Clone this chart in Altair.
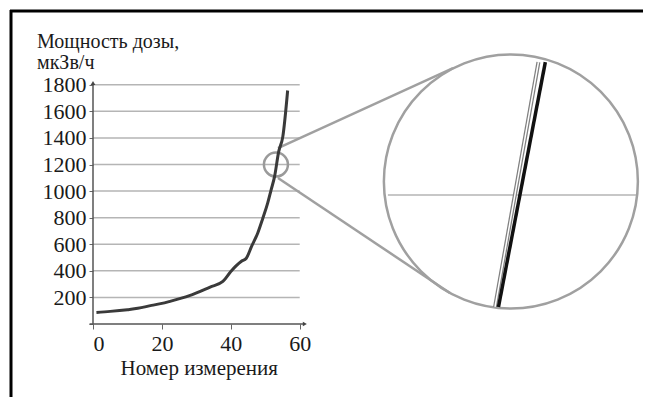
import altair as alt
import pandas as pd

# ---- data ----
meas_no = [1, 5, 10, 13, 17, 20, 22, 28, 34, 37.7, 40, 43, 44.5, 46, 47.8, 49.3, 50.7, 51.7, 52.7, 53.9, 55.1, 56.5]
dose = [87, 95, 108, 118, 140, 155, 168, 213, 278, 320, 395, 470, 495, 582, 683, 796, 909, 1009, 1109, 1297, 1410, 1757]
grid_levels = [200, 400, 600, 800, 1000, 1200, 1400, 1600, 1800]
x_ticks = [0, 20, 40, 60]
y_ticks = [0, 200, 400, 600, 800, 1000, 1200, 1400, 1600, 1800]
y_title = ["Мощность дозы,", "мкЗв/ч"]
x_title = "Номер измерения"

# magnifier geometry in data units
small_circle = {"x": 53.1, "y": 1200}
big_circle = {"x": 121.3, "y": 1072}
connectors = [{"x": 53.7, "y": 1324, "x2": 104.5, "y2": 1926},
              {"x": 53.7, "y": 1099, "x2": 103.6, "y2": 233}]
zoom_grid = [{"x": 85.6, "y": 971, "x2": 157.6, "y2": 971}]
zoom_thin = [{"x": 129.3, "y": 1971, "x2": 116.7, "y2": 128}]
zoom_thick = [{"x": 131.3, "y": 1971, "x2": 117.7, "y2": 128}]

W, H = 547, 279
XMAX = W / 3.445
YMAX = H / 0.1329
FONT = "Liberation Serif"

xs = alt.Scale(domain=[0, XMAX], nice=False, zero=False)
ys = alt.Scale(domain=[0, YMAX], nice=False, zero=False)

AX_X = alt.Axis(
    values=x_ticks, title=x_title, domain=False, grid=False, tickSize=5,
    tickColor="#666", labelFont=FONT, labelFontSize=22, labelColor="#1a1a1a",
    labelPadding=4, titleFont=FONT, titleFontSize=21, titleFontWeight="normal",
    titleColor="#1a1a1a", titlePadding=3, titleAnchor="start", titleX=27, format="d")
AX_Y = alt.Axis(
    values=y_ticks, title=None, domain=False, grid=False, tickSize=4,
    tickColor="#666", labelFont=FONT, labelFontSize=22, labelColor="#1a1a1a",
    labelPadding=3, format="d", labelExpr="datum.value == 0 ? '' : datum.label")


def X(f):
    return alt.X(f, scale=xs, axis=AX_X)


def Y(f):
    return alt.Y(f, scale=ys, axis=AX_Y)


curve_df = pd.DataFrame({"n": meas_no, "d": dose})
grid_df = pd.DataFrame({"y": grid_levels, "x": 0, "x2": 60})

grid = alt.Chart(grid_df).mark_rule(color="#b5b5b5", strokeWidth=1.5).encode(
    x=X("x:Q"), x2="x2:Q", y=Y("y:Q"))

curve = alt.Chart(curve_df).mark_line(color="#3a3a3a", strokeWidth=3, interpolate="monotone").encode(
    x=X("n:Q"), y=Y("d:Q"))

axis_df = pd.DataFrame([{"x": 0, "y": 0, "x2": 0, "y2": 1813},
                        {"x": -1, "y": 0, "x2": 61.5, "y2": 0}])
axes = alt.Chart(axis_df).mark_rule(color="#555", strokeWidth=1.5).encode(
    x=X("x:Q"), y=Y("y:Q"), x2="x2:Q", y2="y2:Q")
arrows_df = pd.DataFrame([{"x": 0, "y": 1813, "s": "triangle-up"},
                          {"x": 61.5, "y": 0, "s": "triangle-right"}])
arrows = alt.Chart(arrows_df).mark_point(filled=True, color="#444", size=22, opacity=1).encode(
    x=X("x:Q"), y=Y("y:Q"), shape=alt.Shape("s:N", scale=None, legend=None))

small = alt.Chart(pd.DataFrame([small_circle])).mark_point(
    shape="circle", filled=False, color="#9a9a9a", strokeWidth=2.5, size=24 * 24, opacity=1).encode(
    x=X("x:Q"), y=Y("y:Q"))
big = alt.Chart(pd.DataFrame([big_circle])).mark_point(
    shape="circle", filled=False, color="#a0a0a0", strokeWidth=2.5, size=254 * 254, opacity=1).encode(
    x=X("x:Q"), y=Y("y:Q"))


def seg(rows, color, width):
    return alt.Chart(pd.DataFrame(rows)).mark_rule(color=color, strokeWidth=width).encode(
        x=X("x:Q"), y=Y("y:Q"), x2="x2:Q", y2="y2:Q")


conn = seg(connectors, "#a0a0a0", 2.5)
zgrid = seg(zoom_grid, "#b5b5b5", 1.5)
zthin_outer = seg(zoom_thin, "#808080", 4)
zthin_inner = seg(zoom_thin, "#ffffff", 1.5)
zthick = seg(zoom_thick, "#111111", 3.5)

ytitle = alt.Chart(pd.DataFrame({"t": ["\n".join(y_title)]})).mark_text(
    font=FONT, fontSize=20, color="#1a1a1a", align="left", baseline="alphabetic",
    lineBreak="\n", lineHeight=21).encode(
    text="t:N", x=alt.value(-56), y=alt.value(3))

frame_top = alt.Chart(pd.DataFrame({"a": [0]})).mark_rule(color="#000", strokeWidth=3).encode(
    x=alt.value(-83), x2=alt.value(560), y=alt.value(-34))
frame_left = alt.Chart(pd.DataFrame({"a": [0]})).mark_rule(color="#000", strokeWidth=3).encode(
    x=alt.value(-82), y=alt.value(-35), y2=alt.value(360))

chart = alt.layer(
    grid, zgrid, axes, arrows, conn, big, small, zthin_outer, zthin_inner, zthick,
    curve, ytitle, frame_top, frame_left
).properties(
    width=W, height=H,
    autosize=alt.AutoSizeParams(type="none"),
    padding={"left": 85, "top": 37, "right": 3, "bottom": 73},
).configure_view(stroke=None)

chart.save("out.html", embed_options={"renderer": "svg", "actions": False})
